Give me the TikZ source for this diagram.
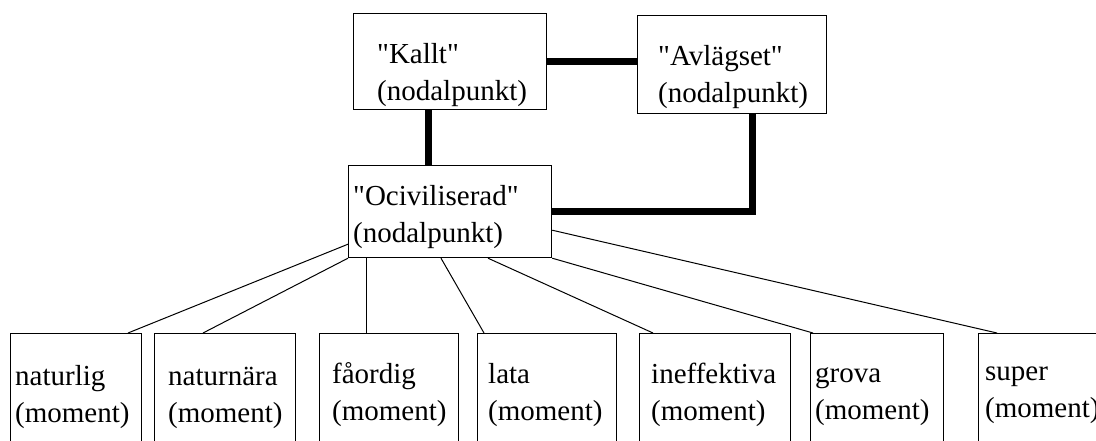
\documentclass[tikz,border=0pt]{standalone}
\usepackage{fontspec}
\setmainfont{Liberation Serif}[Ligatures=TeXOff]
\usetikzlibrary{positioning}
\begin{document}
\begin{tikzpicture}[x=1pt,y=-1pt,line join=miter,
  ruta/.style={draw,line width=1.2pt,anchor=north west,inner sep=0pt},
  momentruta/.style={ruta,minimum height=140pt},
  etikett/.style={align=left,inner sep=0pt,font=\fontsize{29}{37}\selectfont},
  tjock/.style={line width=7pt},
  tunn/.style={line width=1pt}]
\useasboundingbox (0,0) rectangle (1096,441);
\clip (0,0) rectangle (1096,441);
\node[ruta,minimum width=193pt,minimum height=96pt] (kallt) at (353,13) {};
\node[ruta,minimum width=189pt,minimum height=98pt] (avl) at (637,15) {};
\node[ruta,minimum width=203pt,minimum height=92pt] (ociv) at (348,165) {};
\node[momentruta,minimum width=131pt] (nat) at (10,333) {};
\node[momentruta,minimum width=141pt] (natn) at (154,333) {};
\node[momentruta,minimum width=139pt] (fao) at (319,333) {};
\node[momentruta,minimum width=139pt] (lata) at (477,333) {};
\node[momentruta,minimum width=151pt] (ineff) at (639,333) {};
\node[momentruta,minimum width=133pt] (grova) at (810,333) {};
\node[momentruta,minimum width=140pt] (super) at (978,333) {};
\node[etikett,below right=24pt and 24pt of kallt.north west] (kalltT) {\strut"Kallt"\\(nodalpunkt)};
\node[etikett,below right=24pt and 21pt of avl.north west] (avlT) {\strut"Avlägset"\\(nodalpunkt)};
\node[etikett,below right=14pt and 5pt of ociv.north west] (ocivT) {\strut"Ociviliserad"\\(nodalpunkt)};
\node[etikett,below right=26pt and 5pt of nat.north west] (natT) {\strut naturlig\\(moment)};
\node[etikett,below right=26pt and 14pt of natn.north west] (natnT) {\strut naturnära\\(moment)};
\node[etikett,below right=24pt and 13pt of fao.north west] (faoT) {\strut fåordig\\(moment)};
\node[etikett,below right=24pt and 11pt of lata.north west] (lataT) {\strut lata\\(moment)};
\node[etikett,below right=24pt and 12pt of ineff.north west] (ineffT) {\strut ineffektiva\\(moment)};
\node[etikett,below right=23pt and 5pt of grova.north west] (grovaT) {\strut grova\\(moment)};
\node[etikett,below right=21pt and 7pt of super.north west] (superT) {\strut super\\(moment)};
\draw[tjock] (kallt.east) -- (kallt.east -| avl.west);
\coordinate (k1) at ([xshift=75pt]kallt.south west);
\draw[tjock] (k1) -- (k1 |- ociv.north);
\coordinate (a1) at ([xshift=115pt]avl.south west);
\draw[tjock] (a1) |- (ociv.east);
\draw[tunn] ([yshift=14pt]ociv.south west) -- ([xshift=118pt]nat.north west);
\draw[tunn] (ociv.south west) -- ([xshift=49pt]natn.north west);
\coordinate (o1) at ([xshift=18pt]ociv.south west);
\draw[tunn] (o1) -- (o1 |- fao.north);
\draw[tunn] ([xshift=93pt]ociv.south west) -- ([xshift=7pt]lata.north west);
\draw[tunn] ([xshift=140pt]ociv.south west) -- ([xshift=14pt]ineff.north west);
\draw[tunn] (ociv.south east) -- ([xshift=3pt]grova.north west);
\draw[tunn] ([yshift=28pt]ociv.south east) -- ([xshift=19pt]super.north west);
\end{tikzpicture}
\end{document}
